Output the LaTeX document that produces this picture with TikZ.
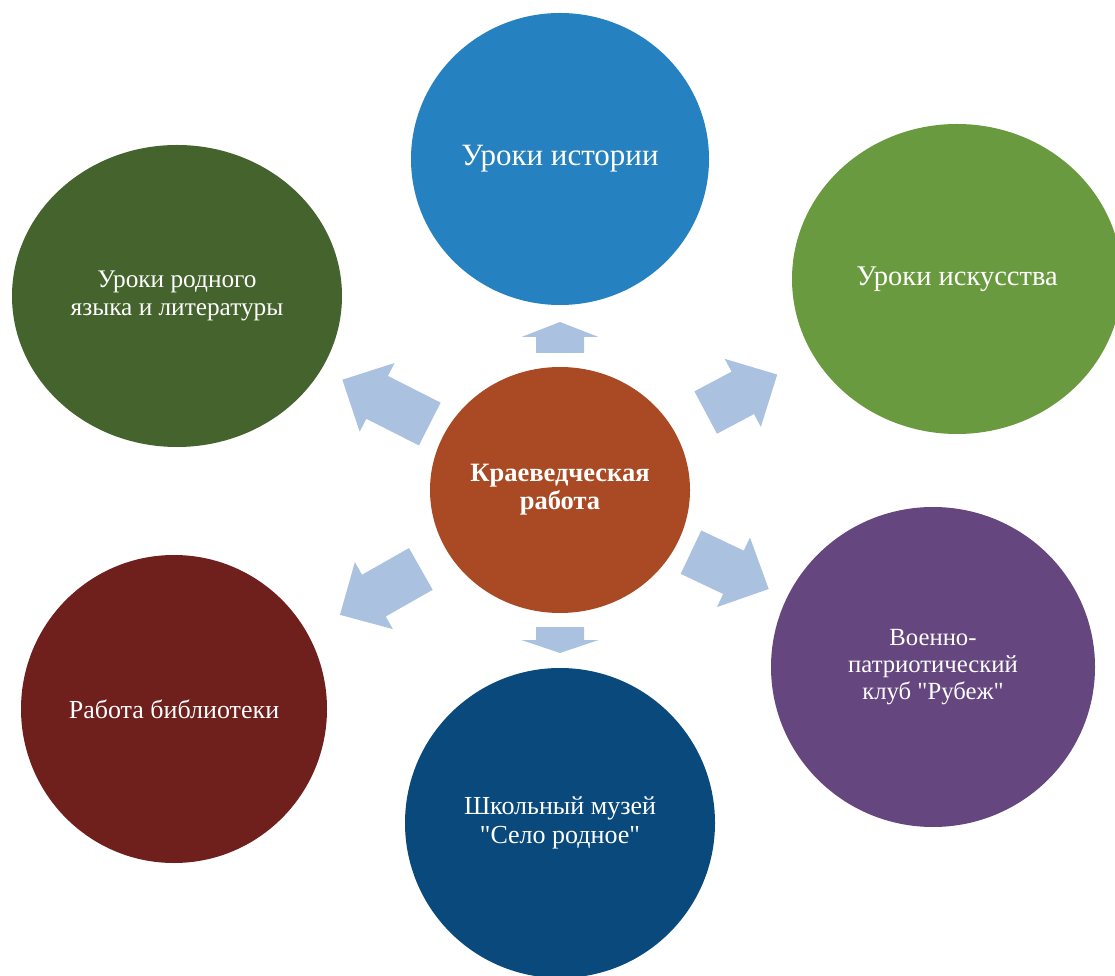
\documentclass[tikz,border=0pt]{standalone}
\usepackage{fontspec}
\setmainfont{Liberation Serif}
\usetikzlibrary{shapes.geometric,calc}
\definecolor{krbrown}{HTML}{AA4A24}
\definecolor{histblue}{HTML}{2681C0}
\definecolor{artgreen}{HTML}{6A9A3F}
\definecolor{langgreen}{HTML}{45632D}
\definecolor{libred}{HTML}{6F1F1C}
\definecolor{musblue}{HTML}{0A497B}
\definecolor{clubviolet}{HTML}{65467E}
\definecolor{arrowblue}{HTML}{AAC1DF}
\tikzset{blob/.style={ellipse, fill=#1, text=white, inner sep=0pt, align=center,
         font=\fontsize{26}{29}\selectfont},
         flow/.style={fill=arrowblue}}

\begin{document}
\begin{tikzpicture}[x=1pt,y=1pt]
  \clip (0,0) rectangle (1115,975);

  \node[blob=krbrown, minimum width=260pt, minimum height=246pt,
        font=\bfseries\fontsize{26.5}{28}\selectfont] (kr) at (560,485) {Краеведческая\\работа};
  \node[blob=histblue, minimum width=298pt, minimum height=292pt,
        font=\fontsize{31}{34}\selectfont] (hist) at (560,816) {Уроки истории};
  \node[blob=artgreen, minimum width=330pt, minimum height=310pt,
        font=\fontsize{28.5}{31}\selectfont] (art) at (957,696) {Уроки искусства};
  \node[blob=langgreen, minimum width=330pt, minimum height=302pt,
        font=\fontsize{25.3}{28}\selectfont] (lang) at (177,679) {Уроки родного\\языка и литературы};
  \node[blob=libred, minimum width=306pt, minimum height=308pt] (lib) at (174,266) {Работа библиотеки};
  \node[blob=musblue, minimum width=310pt, minimum height=310pt] (museum) at (560,152)
        {Школьный музей\\ \textquotedbl Село родное\textquotedbl};
  \node[blob=clubviolet, minimum width=324pt, minimum height=320pt,
        font=\fontsize{24.7}{27}\selectfont] (club) at (933,308)
        {Военно-\\патриотический\\клуб \textquotedbl Рубеж\textquotedbl};

  % block arrows out of the centre: target/tail/tip/head length
  \foreach \to/\a/\b/\h in {hist/137pt/168pt/15pt, museum/137pt/163pt/13pt,
      lang/146pt/244pt/39pt, art/165pt/246pt/39pt, club/145pt/231pt/39pt, lib/160pt/253pt/39pt} {
    \coordinate (s) at ($(kr)!\a!(\to)$);
    \coordinate (t) at ($(kr)!\b!(\to)$);
    \coordinate (h) at ($(t)!\h!(s)$);
    \fill[flow] ($(s)!24pt!90:(t)$) -- ($(h)!24pt!-90:(s)$) -- ($(h)!38.5pt!-90:(s)$) -- (t)
      -- ($(h)!38.5pt!90:(s)$) -- ($(h)!24pt!90:(s)$) -- ($(s)!24pt!-90:(t)$) -- cycle;
  }

\end{tikzpicture}
\end{document}
